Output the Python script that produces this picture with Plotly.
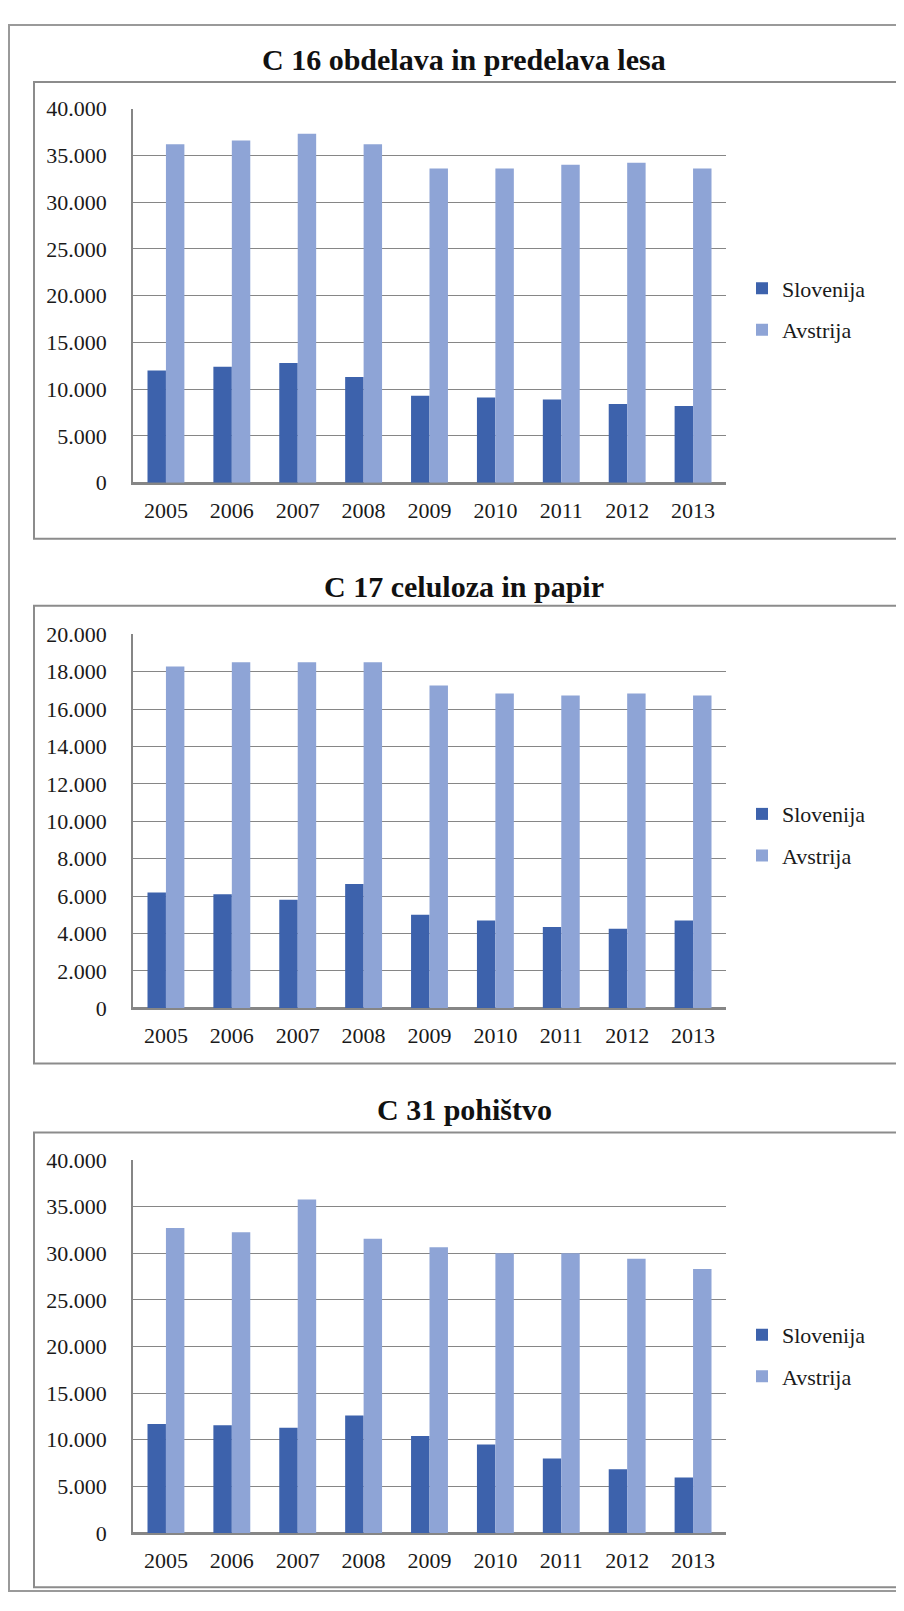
import plotly.graph_objects as go

# The page body adds an 8px margin, so the figure is drawn 8px smaller and all
# pixel positions below are given in page coordinates and shifted by OFF.
PAGE_W, PAGE_H = 904, 1611
OFF = 8
W, H = PAGE_W - OFF, PAGE_H - OFF

years = ["2005", "2006", "2007", "2008", "2009", "2010", "2011", "2012", "2013"]
series_names = ["Slovenija", "Avstrija"]
titles = ["C 16 obdelava in predelava lesa", "C 17 celuloza in papir", "C 31 pohištvo"]

slo_c16 = [12000, 12400, 12800, 11300, 9300, 9100, 8900, 8400, 8200]
avt_c16 = [36200, 36600, 37300, 36200, 33600, 33600, 34000, 34200, 33600]

slo_c17 = [6200, 6100, 5800, 6650, 5000, 4700, 4350, 4250, 4700]
avt_c17 = [18280, 18500, 18500, 18500, 17260, 16830, 16730, 16830, 16730]

slo_c31 = [11700, 11550, 11300, 12600, 10400, 9500, 8000, 6850, 5950]
avt_c31 = [32700, 32250, 35750, 31550, 30650, 30000, 30000, 29400, 28300]

y_max = [40000, 20000, 40000]
y_step = [5000, 2000, 5000]

C_SLO = "#3D62AC"
C_AVT = "#8EA4D6"
GRID = "#868686"
FONT = "Liberation Serif"
FS = 22


def px(x):
    return (x - OFF) / W


def py(y):
    return 1 - (y - OFF) / H


# page-pixel layout of the three panels
plot_top = [98, 632, 1166]
plot_bot = [478, 1012, 1545]
box_top = [71, 603, 1138]
box_bot = [535, 1068, 1600]
title_y = [48, 583, 1115]
legend_y = [302, 836, 1365]

data = [(slo_c16, avt_c16), (slo_c17, avt_c17), (slo_c31, avt_c31)]

fig = go.Figure()

for i, (slo, avt) in enumerate(data):
    xa = "x" if i == 0 else f"x{i+1}"
    ya = "y" if i == 0 else f"y{i+1}"
    lg = "legend" if i == 0 else f"legend{i+1}"
    fig.add_trace(go.Bar(x=years, y=slo, name=series_names[0], marker_color=C_SLO,
                         marker_line_width=0,
                         xaxis=xa, yaxis=ya, legend=lg, legendgroup=f"s{i}"))
    fig.add_trace(go.Bar(x=years, y=avt, name=series_names[1], marker_color=C_AVT,
                         marker_line_width=0,
                         xaxis=xa, yaxis=ya, legend=lg, legendgroup=f"a{i}"))

layout = dict(
    width=W, height=H,
    margin=dict(l=0, r=0, t=0, b=0),
    paper_bgcolor="white", plot_bgcolor="white",
    barmode="group", bargap=0.44, bargroupgap=0,
    separators=",.",
    font=dict(family=FONT, size=FS, color="#1a1a1a"),
    showlegend=True,
)

for i in range(3):
    sfx = "" if i == 0 else str(i + 1)
    layout[f"xaxis{sfx}"] = dict(
        domain=[px(133), px(726)], anchor=f"y{sfx}",
        showline=True, linecolor=GRID, linewidth=1.5,
        showgrid=False, ticks="", ticklabelstandoff=7,
        tickfont=dict(family=FONT, size=FS, color="#1a1a1a"),
        fixedrange=True,
    )
    layout[f"yaxis{sfx}"] = dict(
        domain=[py(plot_bot[i]), py(plot_top[i])], anchor=f"x{sfx}",
        range=[0, y_max[i]], dtick=y_step[i], tick0=0,
        tickformat=",.0f",
        showline=True, linecolor=GRID, linewidth=1.5,
        showgrid=True, gridcolor=GRID, gridwidth=1.3,
        zeroline=True, zerolinecolor=GRID, zerolinewidth=1.5,
        ticks="", ticklabelstandoff=20,
        tickfont=dict(family=FONT, size=FS, color="#1a1a1a"),
        fixedrange=True,
    )
    lname = "legend" if i == 0 else f"legend{i+1}"
    layout[lname] = dict(
        x=px(742), y=py(legend_y[i]), xanchor="left", yanchor="middle",
        font=dict(family=FONT, size=FS, color="#1a1a1a"),
        bgcolor="rgba(0,0,0,0)", traceorder="grouped", tracegroupgap=10,
        itemclick=False, itemdoubleclick=False,
    )

shapes = [
    dict(type="rect", xref="paper", yref="paper",
         x0=px(9), x1=px(902), y0=py(1604), y1=py(13),
         line=dict(color="#9a9a9a", width=2), fillcolor="rgba(0,0,0,0)", layer="below"),
]
annotations = []
for i in range(3):
    shapes.append(dict(type="rect", xref="paper", yref="paper",
                       x0=px(34), x1=px(897), y0=py(box_bot[i]), y1=py(box_top[i]),
                       line=dict(color="#8c8c8c", width=2), fillcolor="rgba(0,0,0,0)", layer="below"))
    annotations.append(dict(text=f"<b>{titles[i]}</b>", xref="paper", yref="paper",
                            x=px(464.5), y=py(title_y[i]), xanchor="center", yanchor="middle",
                            showarrow=False, font=dict(family=FONT, size=30, color="#111111")))

layout["shapes"] = shapes
layout["annotations"] = annotations
fig.update_layout(**layout)

fig.write_html("out.html", config={"displayModeBar": False})
